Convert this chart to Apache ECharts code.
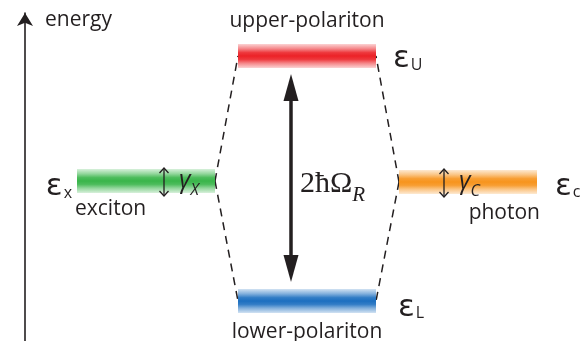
<!DOCTYPE html>
<html><head><meta charset="utf-8">
<script src="https://cdn.jsdelivr.net/npm/echarts@6/dist/echarts.min.js"></script>
<style>html,body{margin:0;padding:0;background:#fff}#c{width:586px;height:341px}</style>
</head><body><div id="c"></div>
<script>
// ---------------- data ----------------
const levelNames = ['exciton', 'upper-polariton', 'lower-polariton', 'photon'];
const levelSubscripts = ['x', 'U', 'L', 'c'];
const levelEnergy = [0, 125, -120, -1];      // arbitrary energy units (exciton ≈ photon, resonant)
const levelColumn = [0, 1, 1, 2];            // 0 = exciton, 1 = coupled polaritons, 2 = photon
const connectorPairs = [[0, 1], [0, 2], [3, 1], [3, 2]];
const broadenedLevels = [0, 3];
const broadeningSubscripts = ['X', 'C'];
const rabiLevels = [1, 2];
const rabiText = '2ħΩ';
const rabiSubscript = 'R';
const axisTitle = 'energy';

// ---------------- layout / style ----------------
const INK = '#231f20';
const SANS = '"Open Sans", "Noto Sans", sans-serif';
const EPS = '"DejaVu Sans", "Open Sans", sans-serif';
const SERIF = '"Liberation Serif", "DejaVu Serif", serif';
const levelColors = ['#39b54a', '#ec2227', '#1c6fc0', '#f7941d'];
const colCenter = [146, 307, 468];
const barHalfWidth = 69;
const barThickness = 24;
const levelLabelLayout = [
  { name: { at: 'left', dx: -2, dy: 28, align: 'left' },     sym: { at: 'left', dx: -5, dy: 6, align: 'right' } },
  { name: { at: 'center', dx: 0, dy: -35, align: 'center' }, sym: { at: 'right', dx: 17, dy: 3, align: 'left' } },
  { name: { at: 'center', dx: 0, dy: 31, align: 'center' },  sym: { at: 'right', dx: 22, dy: 6.5, align: 'left' } },
  { name: { at: 'right', dx: 3, dy: 31, align: 'right' },    sym: { at: 'right', dx: 18, dy: 4.5, align: 'left' } }
];
const broadeningLayout = [ { at: 'right', dx: -51 }, { at: 'left', dx: 45 } ];

function rgba(hex, a) {
  const n = parseInt(hex.slice(1), 16);
  return 'rgba(' + (n >> 16) + ',' + ((n >> 8) & 255) + ',' + (n & 255) + ',' + a + ')';
}
function barX(i, at) {
  const cx = colCenter[levelColumn[i]];
  return at === 'left' ? cx - barHalfWidth : at === 'right' ? cx + barHalfWidth : cx;
}

const chart = echarts.init(document.getElementById('c'), null, { renderer: 'canvas' });

const levelSeries = {
  type: 'custom', coordinateSystem: 'cartesian2d', z: 3,
  data: levelEnergy.map((e, i) => [colCenter[levelColumn[i]], e, i]),
  renderItem: function (params, api) {
    const i = api.value(2);
    const e = api.value(1);
    const p0 = api.coord([barX(i, 'left'), e]);
    const p1 = api.coord([barX(i, 'right'), e]);
    const col = levelColors[i];
    const L = levelLabelLayout[i];
    const pn = api.coord([barX(i, L.name.at), e]);
    const ps = api.coord([barX(i, L.sym.at), e]);
    return {
      type: 'group',
      children: [
        { type: 'rect',
          shape: { x: p0[0], y: p0[1] - barThickness / 2, width: p1[0] - p0[0], height: barThickness },
          style: { fill: new echarts.graphic.LinearGradient(0, 0, 0, 1, [
            { offset: 0, color: rgba(col, 0.2) },
            { offset: 0.2, color: rgba(col, 0.55) },
            { offset: 0.36, color: rgba(col, 0.9) },
            { offset: 0.5, color: rgba(col, 1) },
            { offset: 0.64, color: rgba(col, 0.9) },
            { offset: 0.8, color: rgba(col, 0.55) },
            { offset: 1, color: rgba(col, 0.2) }
          ]) } },
        { type: 'text', x: pn[0] + L.name.dx, y: pn[1] + L.name.dy,
          style: { text: levelNames[i], fontFamily: SANS, fontSize: 21, fill: INK,
                   align: L.name.align, verticalAlign: 'middle' } },
        { type: 'text', x: ps[0] + L.sym.dx, y: ps[1] + L.sym.dy,
          style: { text: '{e|ε}{s|' + levelSubscripts[i] + '}', align: L.sym.align, verticalAlign: 'middle',
                   rich: {
                     e: { fontFamily: EPS, fontSize: 31, fill: INK, lineHeight: 31, padding: [0, 1, 0, 0] },
                     s: { fontFamily: SANS, fontSize: 16, fill: INK, verticalAlign: 'top', height: 43, lineHeight: 1 }
                   } } }
      ]
    };
  }
};

const connectorSeries = {
  type: 'custom', coordinateSystem: 'cartesian2d', z: 2,
  data: connectorPairs.map(p => [colCenter[levelColumn[p[1]]], levelEnergy[p[1]], p[0], p[1]]),
  renderItem: function (params, api) {
    const a = api.value(2), b = api.value(3);
    const ca = levelColumn[a], cb = levelColumn[b];
    const pa = api.coord([barX(a, cb > ca ? 'right' : 'left'), levelEnergy[a]]);
    const pb = api.coord([barX(b, ca > cb ? 'right' : 'left'), levelEnergy[b]]);
    return { type: 'line', shape: { x1: pa[0], y1: pa[1], x2: pb[0], y2: pb[1] },
             style: { stroke: INK, lineWidth: 1.5, lineDash: [8, 6] } };
  }
};

const broadeningSeries = {
  type: 'custom', coordinateSystem: 'cartesian2d', z: 4,
  data: broadenedLevels.map((lv, k) => [barX(lv, broadeningLayout[k].at), levelEnergy[lv], lv, k]),
  renderItem: function (params, api) {
    const lv = api.value(2), k = api.value(3);
    const p = api.coord([barX(lv, broadeningLayout[k].at), levelEnergy[lv]]);
    const x = p[0] + broadeningLayout[k].dx, c = p[1] + 1;
    const h = 14, hw = 4.5, hl = 5;
    const st = { stroke: INK, lineWidth: 1.3, fill: null };
    return { type: 'group', children: [
      { type: 'line', shape: { x1: x, y1: c - h, x2: x, y2: c + h }, style: st },
      { type: 'polyline', shape: { points: [[x - hw, c - h + hl], [x, c - h], [x + hw, c - h + hl]] }, style: st },
      { type: 'polyline', shape: { points: [[x - hw, c + h - hl], [x, c + h], [x + hw, c + h - hl]] }, style: st },
      { type: 'text', x: x + 15, y: c - 1,
        style: { text: '{g|γ}{s|' + broadeningSubscripts[k] + '}', align: 'left', verticalAlign: 'middle',
                 rich: {
                   g: { fontFamily: SANS, fontStyle: 'italic', fontSize: 25, fill: INK, lineHeight: 25 },
                   s: { fontFamily: SANS, fontStyle: 'italic', fontSize: 16, fill: INK, verticalAlign: 'top', height: 44, lineHeight: 1 }
                 } } }
    ] };
  }
};

const rabiSeries = {
  type: 'custom', coordinateSystem: 'cartesian2d', z: 4,
  data: [[colCenter[levelColumn[rabiLevels[0]]], levelEnergy[rabiLevels[0]], levelEnergy[rabiLevels[1]]]],
  renderItem: function (params, api) {
    const cx = api.value(0);
    const top = api.coord([cx, api.value(1)]);
    const bot = api.coord([cx, api.value(2)]);
    const x = top[0] - 16;
    const yT = top[1] + 18, yB = bot[1] - 19;
    const aw = 7.5, al = 27;
    return { type: 'group', children: [
      { type: 'line', shape: { x1: x, y1: yT + al - 2, x2: x, y2: yB - al + 2 }, style: { stroke: INK, lineWidth: 3.5 } },
      { type: 'polygon', shape: { points: [[x, yT], [x + aw, yT + al], [x - aw, yT + al]] }, style: { fill: INK } },
      { type: 'polygon', shape: { points: [[x, yB], [x + aw, yB - al], [x - aw, yB - al]] }, style: { fill: INK } },
      { type: 'text', x: x + 9, y: (top[1] + bot[1]) / 2 + 5.5,
        style: { text: '{n|' + rabiText + '}{r|' + rabiSubscript + '}', align: 'left', verticalAlign: 'middle',
                 rich: {
                   n: { fontFamily: SERIF, fontSize: 30, fill: INK, lineHeight: 30 },
                   r: { fontFamily: SERIF, fontStyle: 'italic', fontSize: 21, fill: INK, verticalAlign: 'top', height: 53, lineHeight: 1 }
                 } } }
    ] };
  }
};

chart.setOption({
  animation: false,
  backgroundColor: '#ffffff',
  grid: { left: 0, right: 0, top: 13, bottom: 0, containLabel: false, outerBoundsMode: 'none' },
  xAxis: { type: 'value', min: 0, max: 586, show: false },
  yAxis: {
    type: 'value', min: -160, max: 168, offset: -25,
    name: axisTitle, nameLocation: 'end', nameGap: -7,
    nameTextStyle: { fontFamily: SANS, fontSize: 21, color: INK, align: 'left', verticalAlign: 'middle', padding: [0, 0, 0, 20] },
    axisLine: { show: true, onZero: false, symbol: ['none', 'arrow'], symbolSize: [12, 13], symbolOffset: [0, 0],
                lineStyle: { color: INK, width: 1.6 } },
    axisTick: { show: false }, axisLabel: { show: false }, splitLine: { show: false }
  },
  series: [connectorSeries, levelSeries, broadeningSeries, rabiSeries]
});
</script>
</body></html>
